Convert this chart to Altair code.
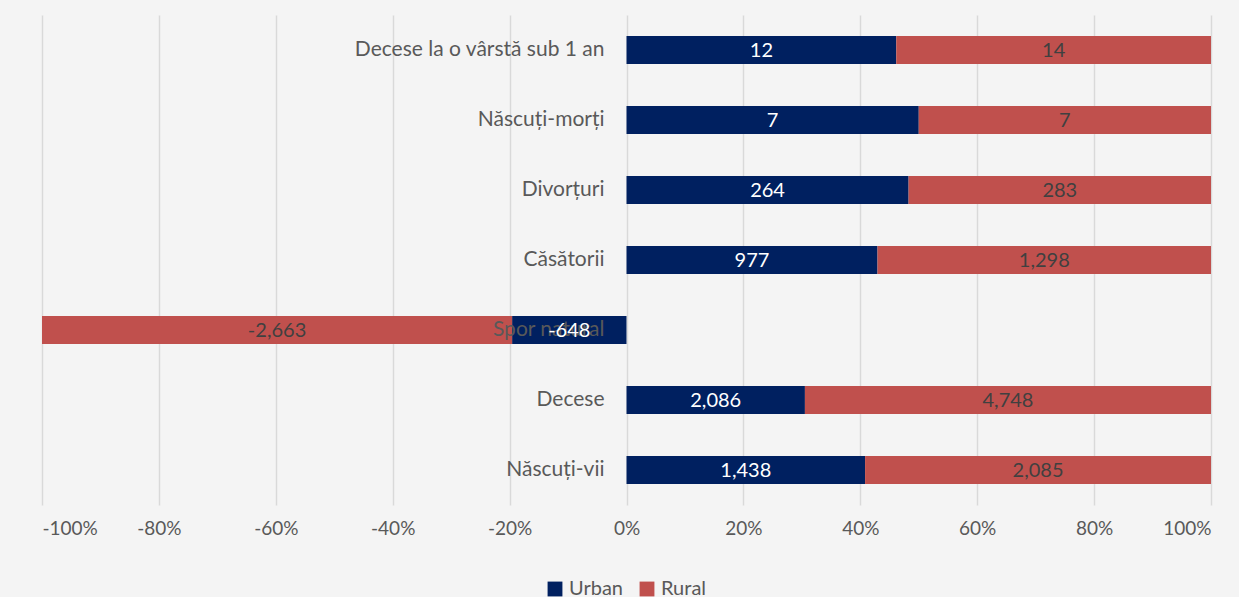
import altair as alt
import pandas as pd

categories = ["Decese la o vârstă sub 1 an", "Născuți-morți", "Divorțuri", "Căsătorii",
              "Spor natural", "Decese", "Născuți-vii"]
urban = [12, 7, 264, 977, -648, 2086, 1438]
rural = [14, 7, 283, 1298, -2663, 4748, 2085]
series = ["Urban", "Rural"]
colors = ["#002060", "#C0504D"]
ticks = [-1, -0.8, -0.6, -0.4, -0.2, 0, 0.2, 0.4, 0.6, 0.8, 1]

rows = []
for c, u, r in zip(categories, urban, rural):
    tot = abs(u) + abs(r)
    rows.append({"cat": c, "series": "Urban", "value": u, "pct": u / tot, "ord": 0,
                 "label": f"{u:,}"})
    rows.append({"cat": c, "series": "Rural", "value": r, "pct": r / tot, "ord": 1,
                 "label": f"{r:,}"})
df = pd.DataFrame(rows)
cats_df = pd.DataFrame({"cat": categories})

FONT = "Lato"
W, H = 1169, 490

y_enc = alt.Y("cat:N", sort=categories, axis=None,
              scale=alt.Scale(paddingInner=0.6, paddingOuter=0.3))

bars = alt.Chart(df).mark_bar().encode(
    x=alt.X("pct:Q", stack="zero",
            scale=alt.Scale(domain=[-1, 1], nice=False),
            axis=alt.Axis(values=ticks, grid=True, gridColor="#d9d9d9",
                          labelExpr="replace(format(datum.value, '.0%'), '\u2212', '-')",
                          gridWidth=1.5, domain=False, ticks=False, labelFontSize=19,
                          labelColor="#595959", labelFont=FONT, labelPadding=14,
                          title=None)),
    y=y_enc,
    color=alt.Color("series:N", sort=series,
                    scale=alt.Scale(domain=series, range=colors),
                    legend=alt.Legend(title=None, orient="none", direction="horizontal",
                                      legendX=503, legendY=564, symbolType="square",
                                      symbolSize=220, symbolStrokeWidth=0,
                                      labelFontSize=20, labelFont=FONT,
                                      labelColor="#595959", columnPadding=14,
                                      labelOffset=4)),
    order=alt.Order("ord:Q"),
)

cat_labels = alt.Chart(cats_df).mark_text(
    align="right", dx=-22, fontSize=21, font=FONT, color="#595959"
).encode(x=alt.datum(0), y=alt.Y("cat:N", sort=categories, axis=None), text="cat:N")

val_labels = alt.Chart(df).transform_stack(
    stack="pct", groupby=["cat"], as_=["p0", "p1"], sort=[alt.SortField("ord")], offset="zero"
).transform_calculate(mid="(datum.p0 + datum.p1) / 2").mark_text(
    fontSize=20, font=FONT, baseline="middle", dy=1
).encode(
    x=alt.X("mid:Q"),
    y=alt.Y("cat:N", sort=categories, axis=None),
    text="label:N",
    color=alt.Color("series:N", scale=alt.Scale(domain=series, range=["#ffffff", "#404040"]),
                    legend=None),
)

chart = alt.layer(bars, cat_labels, val_labels).resolve_scale(color="independent").properties(
    width=W, height=H,
    autosize=alt.AutoSizeParams(type="none"),
    padding={"left": 42, "top": 15, "right": 28, "bottom": 92},
    background="#f4f4f4",
).configure_view(stroke=None)

chart.save("out.html", embed_options={"renderer": "svg", "actions": False})
